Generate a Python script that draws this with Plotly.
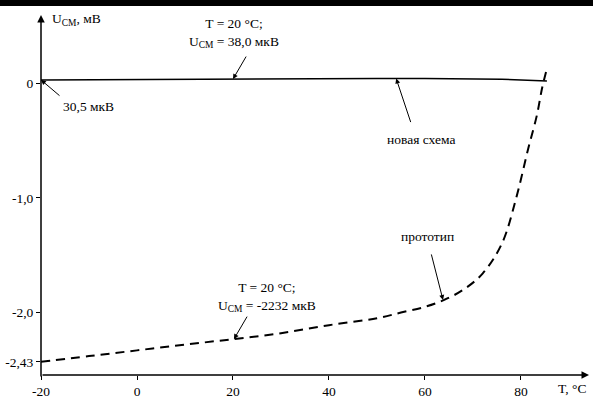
import plotly.graph_objects as go

# --- data ---
new_T = [-20, 0, 20, 30, 40, 50, 60, 70, 76, 80, 85.4]
new_U = [0.0305, 0.035, 0.038, 0.040, 0.041, 0.042, 0.042, 0.040, 0.036, 0.030, 0.022]

proto_T = [-20, -10, 0, 10, 20, 30, 40, 50, 55, 60, 64, 68, 72, 76, 79, 81.5, 83.3, 84.4, 85.4]
proto_U = [-2.43, -2.38, -2.33, -2.28, -2.232, -2.18, -2.11, -2.05, -2.0, -1.95, -1.89, -1.80, -1.66, -1.40, -1.0, -0.57, -0.28, -0.04, 0.13]

x_tickvals = [-20, 0, 20, 40, 60, 80]
x_ticktext = ["-20", "0", "20", "40", "60", "80"]
y_tickvals = [0, -1.0, -2.0, -2.43]
y_ticktext = ["0", "-1,0", "-2,0", "-2,43"]

FONT = "Times New Roman, Liberation Serif, serif"
FS = 13.5

fig = go.Figure()
fig.add_trace(go.Scatter(x=new_T, y=new_U, mode="lines",
                         line=dict(color="black", width=1.5), showlegend=False))
fig.add_trace(go.Scatter(x=proto_T, y=proto_U, mode="lines", line_shape="spline",
                         line=dict(color="black", width=2, dash="9px,6px"), showlegend=False))

W, H = 593, 403
ml, mr, mt, mb = 41, 4, 15, 25
pw, ph = W - ml - mr, H - mt - mb

fig.update_layout(
    width=W, height=H,
    margin=dict(l=ml, r=mr, t=mt, b=mb),
    paper_bgcolor="white", plot_bgcolor="white",
    font=dict(family=FONT, size=FS, color="black"),
    xaxis=dict(range=[-20, 94.17], tickvals=x_tickvals, ticktext=x_ticktext,
               showgrid=False, zeroline=False, showline=False,
               ticks="outside", ticklen=4, tickwidth=1, tickcolor="black",
               tickfont=dict(family=FONT, size=FS, color="black")),
    yaxis=dict(range=[-2.545, 0.597], tickvals=y_tickvals, ticktext=y_ticktext,
               showgrid=False, zeroline=False, showline=False,
               ticks="outside", ticklen=4, tickwidth=1, tickcolor="black",
               tickfont=dict(family=FONT, size=FS, color="black")),
)

# black band at the top
fig.add_shape(type="rect", xref="paper", yref="paper",
              x0=-0.1, x1=1.02, y0=1 + (mt - 6) / ph, y1=1 + (mt + 2) / ph,
              fillcolor="black", line=dict(width=0), layer="above")

# axis lines with arrows
fig.add_annotation(xref="paper", yref="paper", x=1, y=0, ax=-pw, ay=0,
                   text="", showarrow=True, arrowhead=2, arrowsize=1, arrowwidth=1.5,
                   arrowcolor="black", standoff=0, startstandoff=0)
fig.add_annotation(xref="paper", yref="paper", x=0, y=1, ax=0, ay=ph,
                   text="", showarrow=True, arrowhead=2, arrowsize=1, arrowwidth=1.5,
                   arrowcolor="black", standoff=0, startstandoff=0)

# axis titles
fig.add_annotation(xref="paper", yref="paper", x=9 / pw, y=1 - 5 / ph,
                   text="U<sub>CM</sub>, мВ", showarrow=False, xanchor="left", yanchor="middle",
                   font=dict(family=FONT, size=FS))
fig.add_annotation(xref="paper", yref="paper", x=1 - 1 / pw, y=-14 / ph,
                   text="T, °C", showarrow=False, xanchor="right", yanchor="middle",
                   font=dict(family=FONT, size=FS))

def arrow(x, y, ax, ay):
    fig.add_annotation(x=x, y=y, ax=ax, ay=ay, text="", showarrow=True,
                       arrowhead=2, arrowsize=1, arrowwidth=1, arrowcolor="black",
                       standoff=0)

def label(x, y, text):
    fig.add_annotation(x=x, y=y, text=text, showarrow=False, xanchor="center",
                       yanchor="middle", font=dict(family=FONT, size=FS))

# annotations
arrow(20, 0.038, 14, -24)
label(20.3, 0.44, "T = 20 °C;<br>U<sub>CM</sub> = 38,0 мкВ")

arrow(-20, 0.0305, 20, 17)
label(-10.2, -0.2, "30,5 мкВ")

arrow(54, 0.042, 15, 45)
label(59.2, -0.49, "новая схема")

arrow(63.75, -1.89, -12, -47)
label(60.5, -1.34, "прототип")

arrow(20.2, -2.232, 14, -24)
label(27, -1.865, "T = 20 °C;<br>U<sub>CM</sub> = -2232 мкВ")

fig.write_html("out.html", config={"displayModeBar": False},
               post_script="document.body.style.margin='0';document.body.style.overflow='hidden';")
